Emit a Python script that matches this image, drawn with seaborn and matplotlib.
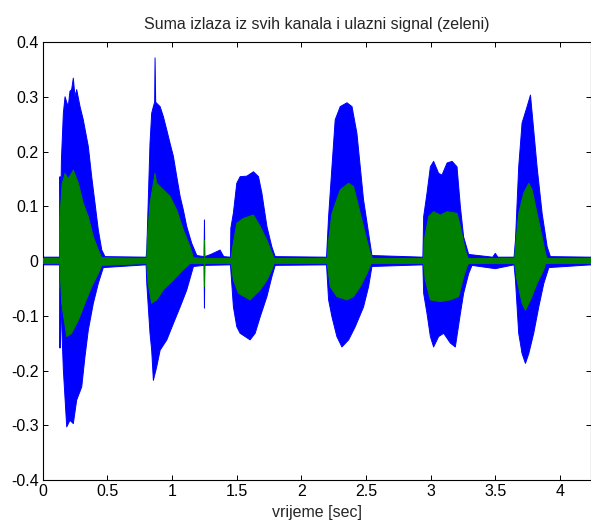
import numpy as np
import pandas as pd
import matplotlib
matplotlib.use("Agg")
import matplotlib.pyplot as plt
import seaborn as sns

# ---- envelope values (time [s], amplitude) ----
blue_up_t = [0.000, 0.131, 0.134, 0.137, 0.145, 0.160, 0.173, 0.186, 0.198, 0.211, 0.224, 0.237, 0.250,
             0.263, 0.289, 0.314, 0.353, 0.379, 0.405, 0.430, 0.457, 0.482, 0.800, 0.805, 0.830, 0.843,
             0.856, 0.866, 0.869, 0.874, 0.882, 0.908, 0.933, 0.960, 0.985, 1.011, 1.037, 1.063, 1.088,
             1.114, 1.153, 1.192, 1.248, 1.251, 1.254, 1.300, 1.372, 1.400, 1.452, 1.455, 1.475, 1.501,
             1.527, 1.579, 1.630, 1.669, 1.695, 1.734, 1.772, 1.798, 2.195, 2.211, 2.237, 2.262, 2.301,
             2.353, 2.392, 2.430, 2.481, 2.520, 2.546, 2.940, 2.946, 2.972, 2.998, 3.023, 3.062, 3.088,
             3.127, 3.166, 3.204, 3.230, 3.255, 3.294, 3.480, 3.500, 3.520, 3.645, 3.656, 3.681, 3.707,
             3.746, 3.772, 3.797, 3.823, 3.862, 3.901, 3.926, 4.240]
blue_up_v = [0.007, 0.007, 0.154, 0.060, 0.185, 0.270, 0.300, 0.290, 0.282, 0.310, 0.313, 0.334, 0.300,
             0.313, 0.282, 0.258, 0.209, 0.154, 0.105, 0.057, 0.020, 0.008, 0.007, 0.020, 0.215, 0.270,
             0.282, 0.290, 0.371, 0.290, 0.288, 0.282, 0.264, 0.239, 0.215, 0.191, 0.154, 0.118, 0.093,
             0.063, 0.032, 0.010, 0.008, 0.075, 0.008, 0.012, 0.020, 0.008, 0.007, 0.060, 0.088, 0.142,
             0.154, 0.155, 0.163, 0.154, 0.124, 0.063, 0.026, 0.008, 0.007, 0.081, 0.172, 0.258, 0.282,
             0.289, 0.282, 0.233, 0.112, 0.051, 0.010, 0.007, 0.081, 0.124, 0.172, 0.182, 0.160, 0.157,
             0.179, 0.182, 0.172, 0.099, 0.044, 0.012, 0.007, 0.014, 0.007, 0.007, 0.038, 0.172, 0.252,
             0.282, 0.303, 0.239, 0.172, 0.087, 0.026, 0.008, 0.007]

blue_lo_t = [0.000, 0.131, 0.134, 0.137, 0.160, 0.186, 0.211, 0.237, 0.263, 0.302, 0.327, 0.353, 0.392,
             0.430, 0.469, 0.800, 0.805, 0.830, 0.843, 0.856, 0.882, 0.908, 0.960, 1.011, 1.063, 1.114,
             1.166, 1.248, 1.251, 1.254, 1.452, 1.475, 1.501, 1.527, 1.604, 1.643, 1.682, 1.734, 1.772,
             1.798, 2.195, 2.211, 2.237, 2.275, 2.314, 2.366, 2.417, 2.481, 2.520, 2.546, 2.940, 2.946,
             2.972, 2.998, 3.023, 3.062, 3.101, 3.153, 3.191, 3.230, 3.255, 3.294, 3.320, 3.500, 3.645,
             3.656, 3.681, 3.707, 3.733, 3.759, 3.797, 3.836, 3.875, 3.914, 4.240]
blue_lo_v = [-0.007, -0.007, -0.159, -0.050, -0.199, -0.303, -0.291, -0.297, -0.254, -0.230, -0.175,
             -0.126, -0.077, -0.041, -0.012, -0.007, -0.041, -0.132, -0.163, -0.218, -0.193, -0.163,
             -0.144, -0.114, -0.084, -0.053, -0.010, -0.008, -0.086, -0.008, -0.007, -0.084, -0.120,
             -0.132, -0.144, -0.132, -0.102, -0.065, -0.029, -0.008, -0.007, -0.071, -0.102, -0.138,
             -0.157, -0.144, -0.120, -0.084, -0.047, -0.010, -0.007, -0.059, -0.096, -0.138, -0.157,
             -0.138, -0.132, -0.150, -0.157, -0.096, -0.059, -0.023, -0.008, -0.014, -0.007, -0.035,
             -0.132, -0.169, -0.187, -0.169, -0.132, -0.084, -0.041, -0.012, -0.007]

green_up_t = [0.000, 0.133, 0.134, 0.150, 0.173, 0.198, 0.237, 0.276, 0.314, 0.353, 0.392, 0.430, 0.457,
              0.805, 0.810, 0.830, 0.869, 0.882, 0.933, 0.985, 1.037, 1.088, 1.140, 1.166, 1.249, 1.251,
              1.253, 1.458, 1.465, 1.501, 1.553, 1.630, 1.682, 1.734, 1.772, 1.790, 2.200, 2.211, 2.237,
              2.301, 2.366, 2.404, 2.456, 2.507, 2.533, 2.550, 2.945, 2.950, 2.985, 3.023, 3.075, 3.127,
              3.204, 3.230, 3.268, 3.290, 3.650, 3.656, 3.681, 3.720, 3.759, 3.785, 3.823, 3.862, 3.888,
              3.900, 4.240]
green_up_v = [0.0045, 0.0045, 0.081, 0.140, 0.160, 0.150, 0.166, 0.142, 0.105, 0.081, 0.044, 0.020, 0.006,
              0.0045, 0.044, 0.105, 0.160, 0.142, 0.130, 0.118, 0.093, 0.057, 0.026, 0.006, 0.0045, 0.038,
              0.0045, 0.0045, 0.020, 0.069, 0.078, 0.084, 0.063, 0.038, 0.015, 0.0045, 0.0045, 0.038,
              0.087, 0.130, 0.142, 0.136, 0.087, 0.038, 0.015, 0.0045, 0.0045, 0.038, 0.081, 0.090, 0.084,
              0.090, 0.087, 0.063, 0.020, 0.0045, 0.0045, 0.026, 0.087, 0.124, 0.142, 0.130, 0.087, 0.044,
              0.014, 0.0045, 0.0045]

green_lo_t = [0.000, 0.133, 0.147, 0.186, 0.224, 0.276, 0.327, 0.379, 0.430, 0.457, 0.805, 0.815, 0.843,
              0.882, 0.933, 1.011, 1.088, 1.140, 1.249, 1.251, 1.253, 1.458, 1.475, 1.514, 1.604, 1.682,
              1.734, 1.772, 1.790, 2.200, 2.224, 2.275, 2.353, 2.404, 2.456, 2.507, 2.540, 2.945, 2.959,
              2.998, 3.075, 3.153, 3.217, 3.255, 3.281, 3.295, 3.650, 3.668, 3.707, 3.733, 3.772, 3.823,
              3.875, 3.890, 4.240]
green_lo_v = [-0.0045, -0.0045, -0.077, -0.138, -0.132, -0.108, -0.077, -0.047, -0.023, -0.008, -0.0045,
              -0.041, -0.077, -0.071, -0.053, -0.035, -0.016, -0.0045, -0.0045, -0.047, -0.0045, -0.0045,
              -0.035, -0.059, -0.071, -0.053, -0.035, -0.016, -0.0045, -0.0045, -0.047, -0.065, -0.071,
              -0.065, -0.047, -0.023, -0.0045, -0.0045, -0.035, -0.071, -0.074, -0.071, -0.065, -0.029,
              -0.010, -0.0045, -0.0045, -0.035, -0.077, -0.090, -0.071, -0.041, -0.016, -0.0045, -0.0045]

y_ticks = [-0.4, -0.3, -0.2, -0.1, 0, 0.1, 0.2, 0.3, 0.4]
y_labels = ["-0.4", "-0.3", "-0.2", "-0.1", "0", "0.1", "0.2", "0.3", "0.4"]
x_ticks = [0, 0.5, 1, 1.5, 2, 2.5, 3, 3.5, 4]
x_labels = ["0", "0.5", "1", "1.5", "2", "2.5", "3", "3.5", "4"]
title = "Suma izlaza iz svih kanala i ulazni signal (zeleni)"
xlabel = "vrijeme [sec]"

BLUE = (0.0, 0.0, 1.0)
GREEN = (0.0, 0.5, 0.0)

sns.set_theme(style="ticks")
plt.rcParams["font.family"] = ["Liberation Sans", "DejaVu Sans"]
plt.rcParams["axes.unicode_minus"] = False

fig = plt.figure(figsize=(5.91, 5.25), dpi=100)
ax = fig.add_axes([0.0722, 0.0857, 0.9278, 0.8343])

rows = []
for name, edge, ts, vs in [("blue", "up", blue_up_t, blue_up_v), ("blue", "lo", blue_lo_t, blue_lo_v),
                           ("green", "up", green_up_t, green_up_v), ("green", "lo", green_lo_t, green_lo_v)]:
    for t, v in zip(ts, vs):
        rows.append({"t": t, "v": v, "series": name, "edge": name + edge})
df = pd.DataFrame(rows)

for name, col, ut, uv, lt, lv, z in [("blue", BLUE, blue_up_t, blue_up_v, blue_lo_t, blue_lo_v, 1),
                                      ("green", GREEN, green_up_t, green_up_v, green_lo_t, green_lo_v, 3)]:
    px = np.concatenate([ut, lt[::-1]])
    py = np.concatenate([uv, lv[::-1]])
    ax.fill(px, py, color=col, lw=0, zorder=z)
    sub = df[df["series"] == name]
    sns.lineplot(data=sub, x="t", y="v", units="edge", estimator=None, color=col,
                 lw=0.7, ax=ax, legend=False, zorder=z + 0.5, sort=False)

ax.set_xlim(0, 4.24)
ax.set_ylim(-0.4, 0.4)
ax.set_xticks(x_ticks)
ax.set_xticklabels(x_labels)
ax.set_yticks(y_ticks)
ax.set_yticklabels(y_labels)
ax.tick_params(direction="in", length=3.6, width=0.7, top=True, right=True,
               labelsize=11.5, colors="black", pad=3)
for s in ax.spines.values():
    s.set_visible(True)
    s.set_linewidth(0.8)
    s.set_color("black")
ax.set_xlabel(xlabel, fontsize=11.5, labelpad=4)
ax.set_ylabel("")
ax.set_title(title, fontsize=11.5, pad=9)
ax.set_facecolor("white")

fig.savefig("out.png", dpi=100)
